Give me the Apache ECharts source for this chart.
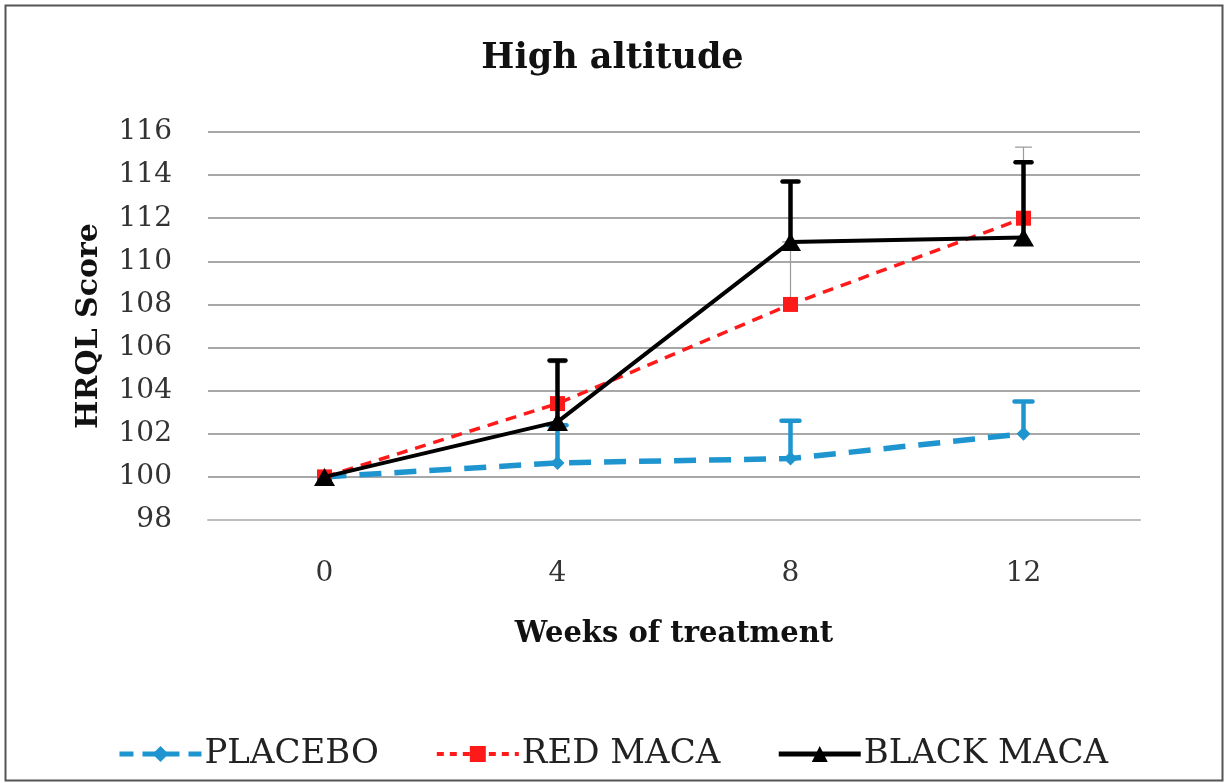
<!DOCTYPE html>
<html><head><meta charset="utf-8">
<script src="https://cdn.jsdelivr.net/npm/echarts@6/dist/echarts.min.js"></script>
<style>html,body{margin:0;padding:0;background:#fff}#c{width:1225px;height:783px}</style>
</head><body><div id="c"></div>
<script>
const weeks = ['0','4','8','12'];
const placebo = [100, 100.65, 100.85, 102.0];
const placeboUpper = [100, 102.4, 102.6, 103.5];
const redMaca = [100, 103.4, 108.0, 112.0];
const redUpper = [100, 105.3, 110.9, 115.3];
const blackMaca = [100, 102.55, 110.9, 111.1];
const blackUpper = [100, 105.4, 113.7, 114.6];
const yTicks = {min: 98, max: 116, interval: 2};

const FONT = '"DejaVu Serif", "Liberation Serif", serif';
const chart = echarts.init(document.getElementById('c'), null, {renderer: 'canvas'});

const BLUE = '#1f95d0', RED = '#ff1a1a';
const blueDash = [22, 13], redDash = [11, 8];

function errSeries(name, means, uppers, color, width, capW, z) {
  return {
    type: 'custom', name: name + '_err', z: z, silent: true,
    data: means.map((m, i) => [i, m, uppers[i]]),
    renderItem: function (params, api) {
      const lo = api.coord([api.value(0), api.value(1)]);
      const hi = api.coord([api.value(0), api.value(2)]);
      if (Math.abs(lo[1] - hi[1]) < 1) return null;
      return {type: 'group', children: [
        {type: 'line', shape: {x1: lo[0], y1: lo[1], x2: hi[0], y2: hi[1]}, style: {stroke: color, lineWidth: width}},
        {type: 'line', shape: {x1: hi[0] - capW / 2, y1: hi[1], x2: hi[0] + capW / 2, y2: hi[1]}, style: {stroke: color, lineWidth: width, lineCap: 'round'}}
      ]};
    }
  };
}

chart.setOption({
  animation: false,
  backgroundColor: '#fff',
  title: {text: 'High altitude', left: 'center', top: 36,
    textStyle: {fontFamily: FONT, fontSize: 35, fontWeight: 'bold', color: '#111'}},
  grid: {left: 208, right: 85, top: 132, bottom: 263},
  legend: {
    bottom: 7, left: 'center', itemGap: 56, itemWidth: 82, itemHeight: 20,
    data: [
      {name: 'PLACEBO', lineStyle: {width: 5, type: [14, 9]}},
      {name: 'RED MACA', lineStyle: {width: 4, type: [7, 6]}},
      {name: 'BLACK MACA', lineStyle: {width: 5}}
    ],
    textStyle: {fontFamily: FONT, fontSize: 34, color: '#222', padding: [0, 0, 0, -2]}
  },
  xAxis: {
    type: 'category', data: weeks, boundaryGap: true,
    name: 'Weeks of treatment', nameLocation: 'middle', nameGap: 100,
    nameTextStyle: {fontFamily: FONT, fontSize: 29, fontWeight: 'bold', color: '#111'},
    axisLine: {lineStyle: {color: '#bdbdbd', width: 2}},
    axisTick: {show: false},
    axisLabel: {fontFamily: FONT, fontSize: 28, color: '#333', margin: 40}
  },
  yAxis: {
    type: 'value', min: yTicks.min, max: yTicks.max, interval: yTicks.interval,
    name: 'HRQL Score', nameLocation: 'middle', nameGap: 104, nameRotate: 90,
    nameTextStyle: {fontFamily: FONT, fontSize: 30, fontWeight: 'bold', color: '#111'},
    axisLine: {show: false}, axisTick: {show: false},
    axisLabel: {fontFamily: FONT, fontSize: 28, color: '#333', margin: 36},
    splitLine: {lineStyle: {color: '#a8a8a8', width: 2}}
  },
  series: [
    errSeries('PLACEBO', placebo, placeboUpper, BLUE, 4.5, 18, 2),
    {
      name: 'PLACEBO', type: 'line', data: placebo, z: 3,
      symbol: 'diamond', symbolSize: 14,
      lineStyle: {color: BLUE, width: 5.5, type: blueDash},
      itemStyle: {color: BLUE}
    },
    errSeries('RED MACA', redMaca, redUpper, '#9a9a9a', 1.2, 16, 4),
    {
      name: 'RED MACA', type: 'line', data: redMaca, z: 5,
      symbol: 'rect', symbolSize: 15,
      lineStyle: {color: RED, width: 3.5, type: redDash},
      itemStyle: {color: RED}
    },
    errSeries('BLACK MACA', blackMaca, blackUpper, '#000', 4.5, 16, 6),
    {
      name: 'BLACK MACA', type: 'line', data: blackMaca, z: 7,
      symbol: 'triangle', symbolSize: [21, 18],
      lineStyle: {color: '#000', width: 4},
      itemStyle: {color: '#000'}
    }
  ],
  graphic: [{
    type: 'rect', left: 3, top: 3, z: 100, silent: true,
    shape: {width: 1217, height: 775},
    style: {fill: 'none', stroke: '#555', lineWidth: 2}
  }]
});
</script></body></html>
